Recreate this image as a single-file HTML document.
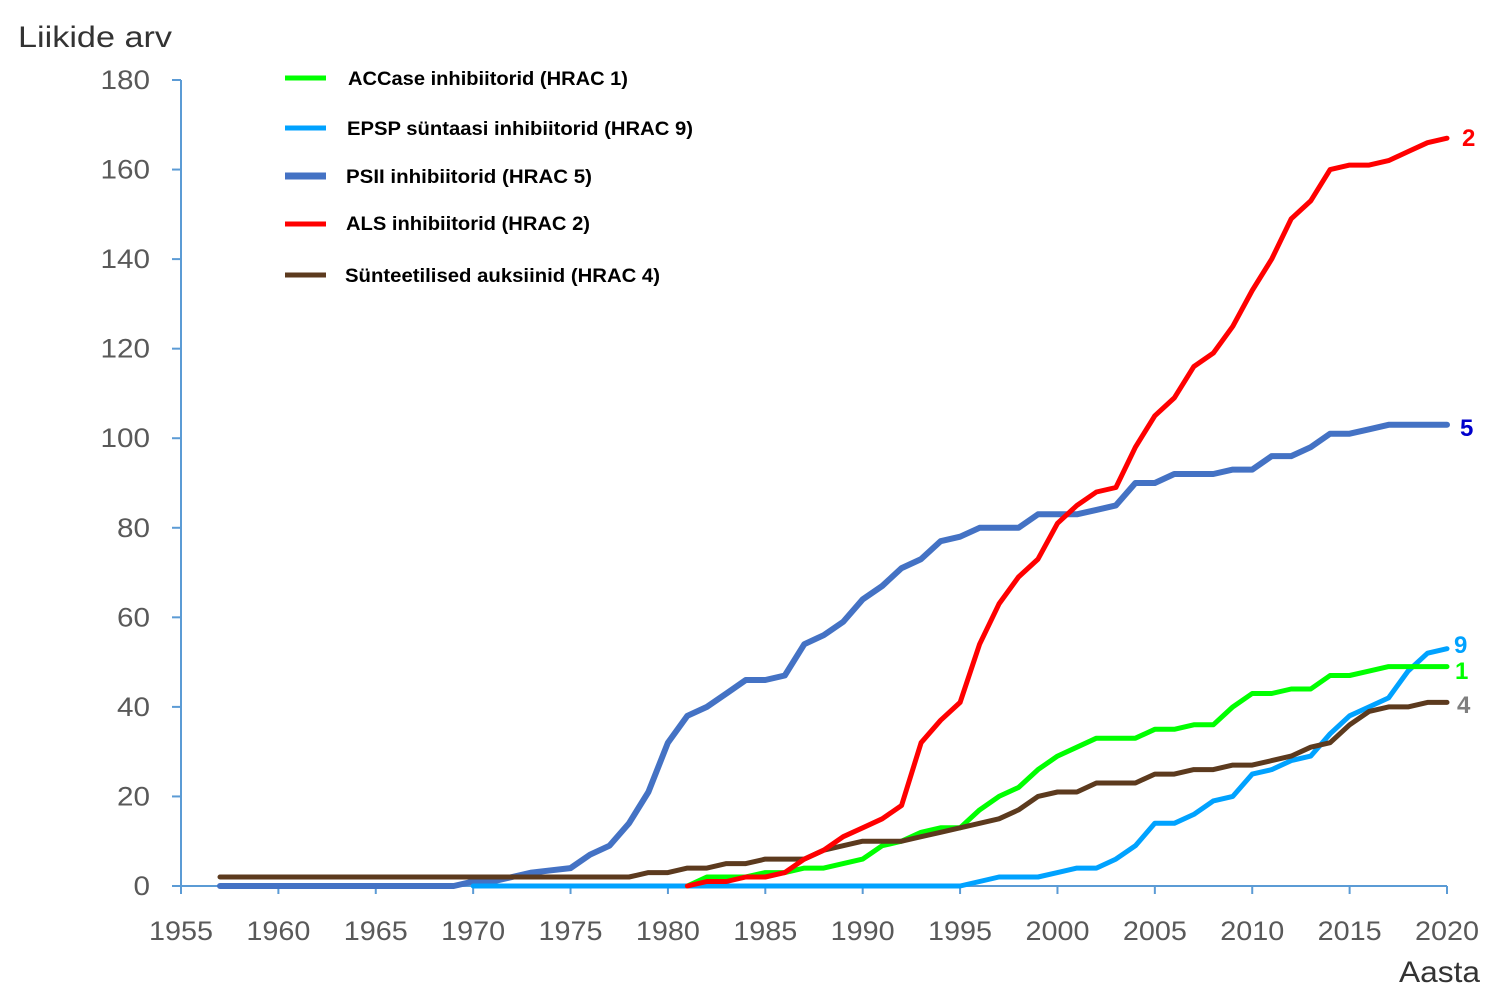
<!DOCTYPE html>
<html><head><meta charset="utf-8"><style>
html,body{margin:0;padding:0;background:#fff;}
svg{display:block;font-family:"Liberation Sans","DejaVu Sans",sans-serif;}
</style></head><body>
<svg id="c" width="1506" height="1006" viewBox="0 0 1506 1006" xmlns="http://www.w3.org/2000/svg">
<rect width="1506" height="1006" fill="#fff"/>
<text x="18" y="47" font-size="30" fill="#333" textLength="154" lengthAdjust="spacingAndGlyphs">Liikide arv</text>
<text x="1399" y="982" font-size="30" fill="#333" textLength="81" lengthAdjust="spacingAndGlyphs">Aasta</text>
<g id="axes" stroke="#5B9BD5" stroke-width="2"></g>
<g id="labels" font-size="27" fill="#595959"></g>
<g id="series" fill="none" stroke-linejoin="round" stroke-linecap="round"></g>
<g font-size="19" font-weight="bold" fill="#000">
<line x1="285" y1="78" x2="326" y2="78" stroke="#00FF00" stroke-width="5"/>
<text x="348" y="85" textLength="280" lengthAdjust="spacingAndGlyphs">ACCase inhibiitorid (HRAC 1)</text>
<line x1="285" y1="128" x2="326" y2="128" stroke="#00A2FF" stroke-width="5"/>
<text x="347" y="135" textLength="346" lengthAdjust="spacingAndGlyphs">EPSP süntaasi inhibiitorid (HRAC 9)</text>
<line x1="285" y1="176" x2="326" y2="176" stroke="#4472C4" stroke-width="7"/>
<text x="346" y="183" textLength="246" lengthAdjust="spacingAndGlyphs">PSII inhibiitorid (HRAC 5)</text>
<line x1="285" y1="224" x2="326" y2="224" stroke="#FF0000" stroke-width="5"/>
<text x="346" y="230" textLength="244" lengthAdjust="spacingAndGlyphs">ALS inhibiitorid (HRAC 2)</text>
<line x1="285" y1="275" x2="326" y2="275" stroke="#5C3A1E" stroke-width="5"/>
<text x="345" y="282" textLength="315" lengthAdjust="spacingAndGlyphs">Sünteetilised auksiinid (HRAC 4)</text>
</g>
<g font-size="24" font-weight="bold">
<text x="1462" y="146" fill="#FF0000">2</text>
<text x="1460" y="436" fill="#0000CC">5</text>
<text x="1454" y="653" fill="#00A2FF">9</text>
<text x="1455" y="679" fill="#00FF00">1</text>
<text x="1457" y="713" fill="#7F7F7F">4</text>
</g>
</svg>
<script>
var X=function(y){return 181+(y-1955)*1266/65;};
var Y=function(v){return 886-v*806/180;};
var ns="http://www.w3.org/2000/svg";
function el(p,t,a,txt){var e=document.createElementNS(ns,t);for(var k in a)e.setAttribute(k,a[k]);if(txt!==undefined)e.textContent=txt;document.getElementById(p).appendChild(e);}
el("axes","line",{x1:181,y1:80,x2:181,y2:886});
el("axes","line",{x1:181,y1:886,x2:1447,y2:886});
for(var v=0;v<=180;v+=20){el("axes","line",{x1:172,y1:Y(v),x2:181,y2:Y(v)});var w=String(v).length*16.5;el("labels","text",{x:150-w,y:Y(v)+9,textLength:w,lengthAdjust:"spacingAndGlyphs"},v);}
for(var yr=1955;yr<=2020;yr+=5){el("axes","line",{x1:X(yr),y1:886,x2:X(yr),y2:894});el("labels","text",{x:X(yr)-32,y:940,textLength:64,lengthAdjust:"spacingAndGlyphs"},yr);}
function ser(start,vals,col,w){var pts=[];for(var i=0;i<vals.length;i++)pts.push(X(start+i).toFixed(1)+","+Y(vals[i]).toFixed(1));el("series","polyline",{points:pts.join(" "),stroke:col,"stroke-width":w});}
var psii=[0,0,0,0,0,0,0,0,0,0,0,0,0,1,1,2,3,3.5,4,7,9,14,21,32,38,40,43,46,46,47,54,56,59,64,67,71,73,77,78,80,80,80,83,83,83,84,85,90,90,92,92,92,93,93,96,96,98,101,101,102,103,103,103,103];
ser(1957,psii,"#4472C4",6);
var epsp=[];for(var i=1970;i<1995;i++)epsp.push(0);epsp=epsp.concat([0,1,2,2,2,3,4,4,6,9,14,14,16,19,20,25,26,28,29,34,38,40,42,48,52,53]);
ser(1970,epsp,"#00A2FF",5);
var acc=[0,2,2,2,3,3,4,4,5,6,9,10,12,13,13,17,20,22,26,29,31,33,33,33,35,35,36,36,40,43,43,44,44,47,47,48,49,49,49,49];
ser(1981,acc,"#00FF00",5);
var aux=[2,2,2,2,2,2,2,2,2,2,2,2,2,2,2,2,2,2,2,2,2,2,3,3,4,4,5,5,6,6,6,8,9,10,10,10,11,12,13,14,15,17,20,21,21,23,23,23,25,25,26,26,27,27,28,29,31,32,36,39,40,40,41,41];
ser(1957,aux,"#5C3A1E",5);
var als=[0,1,1,2,2,3,6,8,11,13,15,18,32,37,41,54,63,69,73,81,85,88,89,98,105,109,116,119,125,133,140,149,153,160,161,161,162,164,166,167];
ser(1981,als,"#FF0000",5);
</script>
</body></html>
